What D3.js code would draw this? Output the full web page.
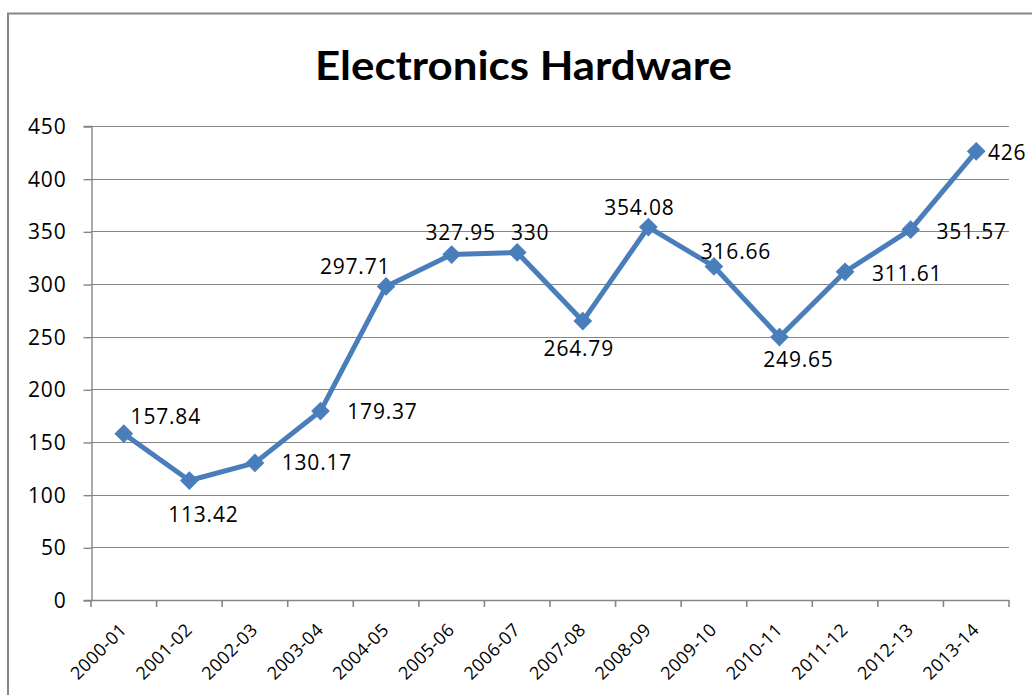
<!DOCTYPE html>
<html>
<head>
<meta charset="utf-8">
<script src="https://cdn.jsdelivr.net/npm/d3@7"></script>
<style>
  html, body { margin: 0; padding: 0; background: #fff; }
  svg { display: block; }
</style>
</head>
<body>
<svg id="chart" width="1032" height="695"></svg>
<script>
// ---- data ----
const title = "Electronics Hardware";
const categories = ["2000-01","2001-02","2002-03","2003-04","2004-05","2005-06","2006-07",
                    "2007-08","2008-09","2009-10","2010-11","2011-12","2012-13","2013-14"];
const values = [157.84, 113.42, 130.17, 179.37, 297.71, 327.95, 330,
                264.79, 354.08, 316.66, 249.65, 311.61, 351.57, 426];
const valueLabels = ["157.84","113.42","130.17","179.37","297.71","327.95","330",
                     "264.79","354.08","316.66","249.65","311.61","351.57","426"];
const yTicks = [0, 50, 100, 150, 200, 250, 300, 350, 400, 450];

// ---- layout (styling, not data) ----
const plot = { left: 91, right: 1009, top: 126, bottom: 600 };
// label offsets from the point (label centre), in px
const labelOffsets = [[42,-17],[14,34],[62,0],[62,0],[-31,-20],[9,-22],[13,-20],
                      [-4,27],[-9,-20],[22,-15],[19,22],[62,2],[61,2],[31,1]];
const gridColor = "#868686";
const lineColor = "#4A7EBB";
const labelFont = "'Open Sans', sans-serif";

const svg = d3.select("#chart");

// outer chart border
svg.append("rect")
  .attr("x", 8).attr("y", 13.5)
  .attr("width", 1100).attr("height", 800)
  .attr("fill", "#fff").attr("stroke", gridColor).attr("stroke-width", 2);

// title
svg.append("text")
  .attr("x", 523.5).attr("y", 80)
  .attr("text-anchor", "middle")
  .attr("font-family", "Lato, 'Open Sans', sans-serif")
  .attr("font-weight", "bold")
  .attr("font-size", 41)
  .attr("fill", "#000")
  .attr("textLength", 417)
  .attr("lengthAdjust", "spacingAndGlyphs")
  .text(title);

const x = d3.scaleBand().domain(categories).range([plot.left, plot.right]);
const y = d3.scaleLinear().domain([0, 450]).range([plot.bottom, plot.top]);

// gridlines
svg.append("g").selectAll("line").data(yTicks.filter(d => d > 0)).join("line")
  .attr("x1", plot.left).attr("x2", plot.right)
  .attr("y1", d => Math.round(y(d)) + 0.5).attr("y2", d => Math.round(y(d)) + 0.5)
  .attr("stroke", gridColor).attr("stroke-width", 1.2);

// y axis
const yAxis = svg.append("g")
  .attr("transform", `translate(${plot.left + 0.5},0)`)
  .call(d3.axisLeft(y).tickValues(yTicks).tickSize(8).tickPadding(17).tickFormat(d3.format("d")));
yAxis.select(".domain").attr("stroke", gridColor).attr("stroke-width", 1.4);
yAxis.selectAll(".tick line").attr("stroke", gridColor).attr("stroke-width", 1.4)
  .attr("transform", "translate(0,0.5)");
yAxis.selectAll(".tick text")
  .attr("font-family", labelFont).attr("font-size", 21).attr("fill", "#000")
  .attr("letter-spacing", 0.8)
  .attr("dy", "0.36em");

// x axis: ticks at category boundaries
const boundaries = categories.map(c => x(c)).concat([plot.right]);
const xg = svg.append("g");
xg.append("line")
  .attr("x1", plot.left).attr("x2", plot.right)
  .attr("y1", plot.bottom + 0.5).attr("y2", plot.bottom + 0.5)
  .attr("stroke", gridColor).attr("stroke-width", 1.6);
xg.selectAll("line.tk").data(boundaries).join("line").attr("class", "tk")
  .attr("x1", d => d).attr("x2", d => d)
  .attr("y1", plot.bottom).attr("y2", plot.bottom + 7)
  .attr("stroke", gridColor).attr("stroke-width", 1.6);
xg.selectAll("text").data(categories).join("text")
  .attr("transform", d => `translate(${x(d) + x.bandwidth() / 2 + 4},${plot.bottom + 31}) rotate(-45)`)
  .attr("text-anchor", "end")
  .attr("font-family", labelFont).attr("font-size", 18).attr("fill", "#000")
  .attr("letter-spacing", 0.4)
  .text(d => d);

// series line
const pts = categories.map((c, i) => ({ c, v: values[i], label: valueLabels[i], off: labelOffsets[i] }));
const cx = d => x(d.c) + x.bandwidth() / 2;
svg.append("path").datum(pts)
  .attr("d", d3.line().x(cx).y(d => y(d.v)))
  .attr("fill", "none").attr("stroke", lineColor).attr("stroke-width", 5)
  .attr("stroke-linejoin", "round").attr("stroke-linecap", "round");

// diamond markers
svg.append("g").selectAll("path").data(pts).join("path")
  .attr("transform", d => `translate(${cx(d)},${y(d.v)}) rotate(45)`)
  .attr("d", d3.symbol().type(d3.symbolSquare).size(150))
  .attr("fill", lineColor).attr("stroke", lineColor).attr("stroke-width", 1);

// data labels
svg.append("g").selectAll("text").data(pts).join("text")
  .attr("x", d => cx(d) + d.off[0])
  .attr("y", d => y(d.v) + d.off[1])
  .attr("dy", "0.36em")
  .attr("text-anchor", "middle")
  .attr("font-family", labelFont).attr("font-size", 21).attr("fill", "#000")
  .attr("letter-spacing", 0.8)
  .text(d => d.label);
</script>
</body>
</html>
